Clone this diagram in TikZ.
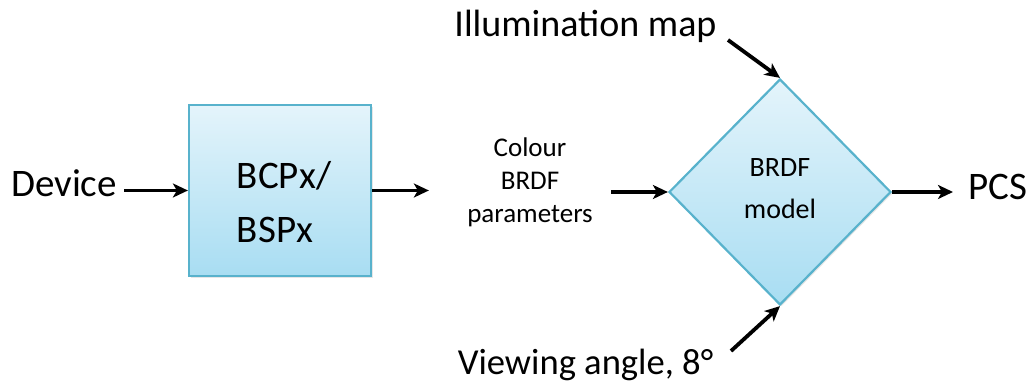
\documentclass[tikz,border=0pt]{standalone}
\usepackage{fontspec}
\setmainfont{Carlito}
\usetikzlibrary{shapes.geometric, arrows.meta, shadows}
\definecolor{cellTop}{RGB}{228,244,251}
\definecolor{cellBot}{RGB}{168,221,242}
\definecolor{cellLine}{RGB}{88,178,204}

\tikzset{
  bigtext/.style={font=\fontsize{19}{27}\selectfont, inner sep=0pt},
  smalltext/.style={font=\fontsize{13.5}{16.5}\selectfont, inner sep=0pt, align=center},
  cell/.style={draw=cellLine, line width=1.1pt, top color=cellTop, bottom color=cellBot,
    drop shadow={opacity=0.2, shadow xshift=0.8pt, shadow yshift=-0.8pt}},
  flow/.style={-{Stealth[length=7.5pt, width=7pt, inset=2pt]}, line width=1.9pt}
}

\begin{document}
\begin{tikzpicture}[x=0.5pt, y=-0.5pt]
  \useasboundingbox (0,0) rectangle (1027,383);

  % blocks
  \node[bigtext, font=\fontsize{19.5}{27}\selectfont, anchor=base] (device) at (64,197) {Device};
  \node[cell, minimum width=91pt, minimum height=85.5pt, inner sep=0pt] (bsp) at (280,190.5) {};
  \node[bigtext, font=\fontsize{19.5}{27}\selectfont, align=left] (bsplabel) at (284,202) {BCPx/\\BSPx};
  \node[smalltext] (params) at (530,182) {Colour\\BRDF\\parameters};
  \node[cell, diamond, minimum width=111pt, minimum height=113pt, inner sep=0pt] (model) at (780,192) {};
  \node[smalltext, font=\fontsize{14}{21}\selectfont] (modellabel) at (780,189) {BRDF\\model};
  \node[bigtext, font=\fontsize{19.5}{27}\selectfont, anchor=base west] (pcs) at (968,200) {PCS};
  \node[bigtext, anchor=base] (illum) at (585.5,37) {Illumination map};
  \node[bigtext, font=\fontsize{18.3}{27}\selectfont, anchor=base] (view) at (585.5,375) {Viewing angle, 8°};

  \coordinate (illumtail) at (728,40);
  \coordinate (viewtail) at (731,351);

  % arrows
  \draw[flow, shorten <=3.5pt] (device.east |- bsp.west) -- (bsp.west);
  \draw[flow, shorten >=19pt] (bsp.east) -- (params.west |- bsp.east);
  \draw[flow, shorten <=9pt] (params.east |- model.west) -- (model.west);
  \draw[flow, shorten >=7.5pt] (model.east) -- (pcs.west |- model.east);
  \draw[flow] (illumtail) -- (model.north);
  \draw[flow] (viewtail) -- (model.south);
\end{tikzpicture}
\end{document}
